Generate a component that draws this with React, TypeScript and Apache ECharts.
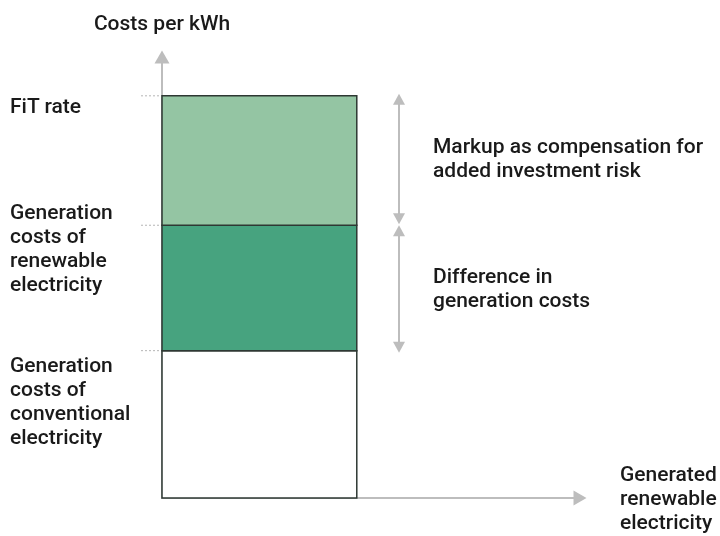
import React, { useEffect, useRef } from "react";
import * as echarts from "echarts";

// Cost levels (arbitrary units of cost per kWh), cumulative from zero
const levelNames = ["Conventional generation costs", "Renewable generation costs", "FiT rate"];
const levels = [0, 14.8, 27.4, 40.4];
// Width of the bar on the generated-electricity axis (0..100)
const barExtent = 46.6;
// Position of the bracket arrows on the x axis
const arrowX = 56.7;

const leftLabels = [
  { text: "FiT rate", level: 40.4, dy: -1.5 },
  { text: "Generation\ncosts of\nrenewable\nelectricity", level: 27.4, dy: -25 },
  { text: "Generation\ncosts of\nconventional\nelectricity", level: 14.8, dy: 2 },
];
const rightLabels = [
  { text: "Markup as compensation for\nadded investment risk", from: 27.4, to: 40.4, dy: -3 },
  { text: "Difference in\ngeneration costs", from: 14.8, to: 27.4, dy: 0 },
];

const segColors = ["#ffffff", "#47a37f", "#94c5a3"];
const FONT = "Roboto, 'Noto Sans', sans-serif";
const FS = 21;

export default function App() {
  const ref = useRef<HTMLDivElement>(null);
  useEffect(() => {
    if (!ref.current) return;
    const chart = echarts.init(ref.current, undefined, { renderer: "svg" });

    const segData = levelNames.map((n, i) => ({ name: n, value: [0, barExtent, levels[i], levels[i + 1], i] }));
    const arrowData = [
      { value: [arrowX, levels[2], levels[3]] },
      { value: [arrowX, levels[1], levels[2]] },
    ];

    const option: any = {
      animation: false,
      grid: { left: 162, right: 140, top: 57, bottom: 36 },
      xAxis: {
        type: "value",
        min: 0,
        max: 100,
        name: "Generated\nrenewable\nelectricity",
        nameLocation: "end",
        nameGap: 40,
        nameTextStyle: {
          fontFamily: FONT,
          fontSize: FS,
          fontWeight: 500,
          color: "#1a1a1a",
          align: "left",
          verticalAlign: "middle",
          lineHeight: 24,
          padding: [0, 0, 4, 0],
        },
        axisLine: {
          show: true,
          symbol: ["none", "triangle"],
          symbolSize: [15, 13],
          lineStyle: { color: "#bdbdbd", width: 2 },
        },
        axisTick: { show: false },
        axisLabel: { show: false },
        splitLine: { show: false },
      },
      yAxis: {
        type: "value",
        min: 0,
        max: 44.3,
        name: "Costs per kWh",
        nameLocation: "end",
        nameGap: 22,
        nameTextStyle: {
          fontFamily: FONT,
          fontSize: FS,
          fontWeight: 500,
          color: "#1a1a1a",
          align: "center",
          lineHeight: 24,
        },
        axisLine: {
          show: true,
          symbol: ["none", "triangle"],
          symbolSize: [15, 13],
          lineStyle: { color: "#bdbdbd", width: 2 },
        },
        axisTick: { show: false },
        axisLabel: { show: false },
        splitLine: { show: false },
      },
      series: [
        {
          type: "custom",
          name: "bar",
          data: segData,
          z: 3,
          renderItem: (params: any, api: any) => {
            const x0 = api.value(0), x1 = api.value(1), y0 = api.value(2), y1 = api.value(3);
            const idx = api.value(4);
            const pa = api.coord([x0, y1]);
            const pb = api.coord([x1, y0]);
            const children: any[] = [
              {
                type: "rect",
                shape: { x: pa[0], y: pa[1], width: pb[0] - pa[0], height: pb[1] - pa[1] },
                style: { fill: segColors[idx], stroke: "#2e3833", lineWidth: 1.5 },
              },
              {
                type: "line",
                shape: { x1: pa[0] - 21, y1: pa[1], x2: pa[0] - 1, y2: pa[1] },
                style: { stroke: "#b5b5b5", lineWidth: 1, lineDash: [2, 2] },
              },
            ];
            return { type: "group", children };
          },
        },
        {
          type: "custom",
          name: "brackets",
          data: arrowData,
          z: 3,
          renderItem: (params: any, api: any) => {
            const x = api.value(0), yb = api.value(1), yt = api.value(2);
            const pt = api.coord([x, yt]);
            const pbm = api.coord([x, yb]);
            const top = pt[1] - 2 + params.dataIndex * 2;
            const bot = pbm[1] - 1 + params.dataIndex * 3;
            const hw = 6, hh = 11;
            const cx = pt[0];
            const col = "#bdbdbd";
            return {
              type: "group",
              children: [
                {
                  type: "line",
                  shape: { x1: cx, y1: top + hh - 1, x2: cx, y2: bot - hh + 1 },
                  style: { stroke: col, lineWidth: 2 },
                },
                {
                  type: "polygon",
                  shape: { points: [[cx, top], [cx - hw, top + hh], [cx + hw, top + hh]] },
                  style: { fill: col },
                },
                {
                  type: "polygon",
                  shape: { points: [[cx, bot], [cx - hw, bot - hh], [cx + hw, bot - hh]] },
                  style: { fill: col },
                },
              ],
            };
          },
        },
      ],
    };
    chart.setOption(option);

    const textStyle = { fontFamily: FONT, fontSize: FS, fontWeight: 500, fill: "#1a1a1a", lineHeight: 24 };
    const graphics: any[] = [];
    leftLabels.forEach((l) => {
      const p = chart.convertToPixel({ gridIndex: 0 }, [0, l.level]) as number[];
      graphics.push({
        type: "text",
        left: 10,
        top: p[1] + l.dy,
        style: { ...textStyle, text: l.text },
      });
    });
    rightLabels.forEach((l) => {
      const p = chart.convertToPixel({ gridIndex: 0 }, [0, (l.from + l.to) / 2]) as number[];
      const lines = l.text.split("\n").length;
      graphics.push({
        type: "text",
        left: 433,
        top: p[1] + l.dy - (lines * 24) / 2,
        style: { ...textStyle, text: l.text },
      });
    });
    chart.setOption({ graphic: graphics });

    return () => chart.dispose();
  }, []);
  return <div ref={ref} style={{ position: "fixed", left: 0, top: 0, width: 720, height: 536 }} />;
}
